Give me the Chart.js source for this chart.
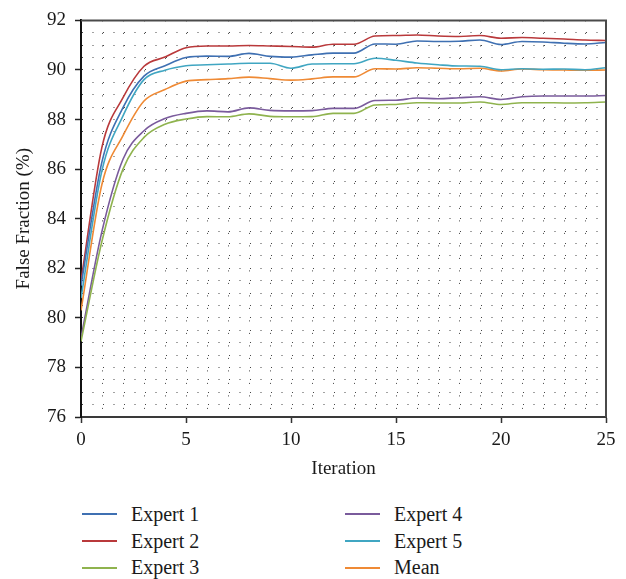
<!DOCTYPE html>
<html>
<head>
<meta charset="utf-8">
<script src="https://cdn.jsdelivr.net/npm/chart.js@4.4.1/dist/chart.umd.min.js"></script>
<style>
  html, body { margin: 0; padding: 0; background: #fff; }
  #wrap { position: relative; width: 626px; height: 579px; overflow: hidden; }
  #box { position: absolute; left: 0; top: 0; width: 626px; height: 480px; }
  #legend {
    position: absolute; left: 82px; top: 501px;
    display: grid; grid-auto-flow: column;
    grid-template-rows: repeat(3, 26.7px); grid-template-columns: 263px 200px;
    font-family: "Liberation Serif", "DejaVu Serif", serif; font-size: 20px; color: #1a1a1a;
  }
  .item { display: flex; align-items: center; }
  .sw { width: 35px; height: 2px; margin-right: 14px; }
</style>
</head>
<body>
<div id="wrap">
  <div id="box"><canvas id="c"></canvas></div>
  <div id="legend"></div>
</div>
<script>
const iterations = [0,1,2,3,4,5,6,7,8,9,10,11,12,13,14,15,16,17,18,19,20,21,22,23,24,25];

const expert1 = [81.3,86.3,88.48,89.75,90.17,90.5,90.56,90.55,90.67,90.55,90.52,90.61,90.68,90.68,91.05,91.04,91.17,91.15,91.16,91.21,91.03,91.15,91.13,91.08,91.05,91.11];
const expert2 = [81.5,86.9,88.88,90.15,90.52,90.9,90.97,90.97,90.99,90.97,90.95,90.92,91.04,91.04,91.37,91.39,91.41,91.37,91.35,91.39,91.28,91.31,91.28,91.25,91.21,91.19];
const expert3 = [79.05,83.1,86.0,87.28,87.81,88.02,88.12,88.11,88.23,88.13,88.11,88.12,88.25,88.25,88.59,88.61,88.68,88.67,88.67,88.71,88.61,88.68,88.68,88.67,88.68,88.71];
const expert4 = [79.2,83.5,86.4,87.55,88.04,88.25,88.35,88.31,88.47,88.37,88.35,88.36,88.45,88.45,88.77,88.78,88.87,88.84,88.88,88.92,88.81,88.92,88.95,88.95,88.95,88.97];
const expert5 = [80.8,85.95,88.15,89.61,89.99,90.17,90.21,90.24,90.27,90.27,90.07,90.24,90.25,90.25,90.47,90.39,90.28,90.21,90.16,90.15,90.01,90.05,90.03,90.04,90.01,90.09];
const mean    = [80.3,85.4,87.35,88.75,89.21,89.55,89.61,89.65,89.71,89.65,89.59,89.64,89.72,89.72,90.05,90.04,90.09,90.07,90.05,90.07,89.96,90.04,90.01,90.0,89.99,90.0];

const labels = ['Expert 1','Expert 2','Expert 3','Expert 4','Expert 5','Mean'];
const colors = ['#3f70b2','#b9393b','#8fb34e','#7a5b9c','#40a6c2','#ef8a35'];
const series = [expert1, expert2, expert3, expert4, expert5, mean];

const xTicks = [0,5,10,15,20,25];
const yTicks = [76,78,80,82,84,86,88,90,92];

const FONT = '"Liberation Serif", "DejaVu Serif", serif';

const frame = {
  id: 'frame',
  afterDraw(c) {
    const a = c.chartArea, ctx = c.ctx;
    ctx.save();
    ctx.strokeStyle = '#4a4a4a'; ctx.lineWidth = 2;
    ctx.beginPath();
    ctx.moveTo(a.left, a.top); ctx.lineTo(a.right, a.top); ctx.lineTo(a.right, a.bottom);
    ctx.stroke();
    ctx.restore();
  }
};

const chart = new Chart(document.getElementById('c'), {
  type: 'line',
  data: {
    labels: iterations,
    datasets: series.map((d, i) => ({
      label: labels[i],
      data: d.map((v, j) => ({ x: iterations[j], y: v })),
      borderColor: colors[i],
      borderWidth: 1.6,
      pointRadius: 0,
      fill: false,
      cubicInterpolationMode: 'monotone'
    }))
  },
  options: {
    responsive: true,
    maintainAspectRatio: false,
    animation: false,
    layout: { padding: { top: 17, right: 20, left: 0, bottom: 0 } },
    plugins: { legend: { display: false }, tooltip: { enabled: false } },
    scales: {
      x: {
        type: 'linear', min: 0, max: 25,
        afterFit: s => { s.height = 63; },
        ticks: {
          stepSize: 1, autoSkip: false, maxRotation: 0, padding: 6,
          color: '#1a1a1a', font: { family: FONT, size: 19 },
          callback: v => xTicks.includes(v) ? String(v) : ''
        },
        grid: {
          color: ctx => (ctx.tick && (ctx.tick.value === 0 || ctx.tick.value === 25)) ? 'rgba(0,0,0,0)' : '#444',
          lineWidth: 1,
          tickLength: 6,
          tickColor: ctx => (ctx.tick && xTicks.includes(ctx.tick.value)) ? '#333' : 'rgba(0,0,0,0)',
          tickWidth: 1.5
        },
        border: { display: true, color: '#3a3a3a', width: 2, dash: [1, 11.5] },
        title: { display: true, text: 'Iteration', color: '#1a1a1a', font: { family: FONT, size: 19 }, padding: { top: 0, bottom: 0 } }
      },
      y: {
        min: 76, max: 92,
        afterFit: s => { s.width = 81; },
        ticks: {
          stepSize: 0.5, autoSkip: false, padding: 9,
          color: '#1a1a1a', font: { family: FONT, size: 19 },
          callback: v => yTicks.includes(v) ? String(v) : ''
        },
        grid: {
          color: ctx => (ctx.tick && (ctx.tick.value === 76 || ctx.tick.value === 92)) ? 'rgba(0,0,0,0)' : '#444',
          lineWidth: 1,
          tickLength: 6,
          tickColor: ctx => (ctx.tick && yTicks.includes(ctx.tick.value)) ? '#222' : 'rgba(0,0,0,0)',
          tickWidth: 1.5
        },
        border: { display: true, color: '#111', width: 2, dash: [1, 9.5] },
        title: { display: true, text: 'False Fraction (%)', color: '#1a1a1a', font: { family: FONT, size: 19 }, padding: { top: 13, bottom: 0 } }
      }
    }
  },
  plugins: [frame]
});

const lg = document.getElementById('legend');
chart.data.datasets.forEach(ds => {
  const it = document.createElement('div'); it.className = 'item';
  it.innerHTML = '<span class="sw" style="background:' + ds.borderColor + '"></span><span>' + ds.label + '</span>';
  lg.appendChild(it);
});
</script>
</body>
</html>
